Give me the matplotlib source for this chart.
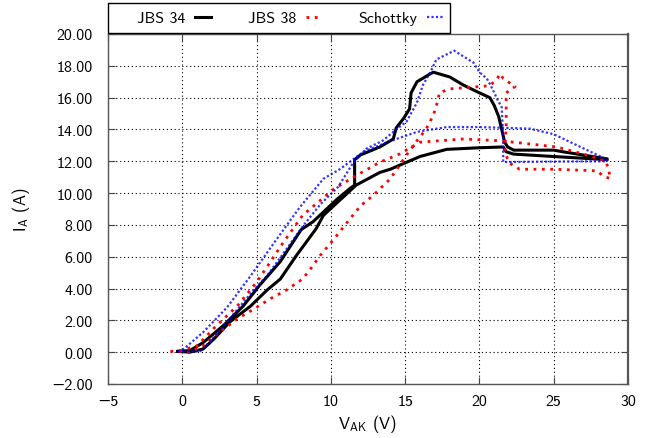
import matplotlib
matplotlib.use('Agg')
import matplotlib.pyplot as plt
from matplotlib.patches import Rectangle

plt.rcParams['font.family'] = ['cmss10', 'DejaVu Sans']
plt.rcParams['mathtext.default'] = 'regular'
plt.rcParams['axes.unicode_minus'] = True

# JBS 34 loop (forward branch, then return branch)
v34 = [-0.3, 0.5, 1.4, 2.8, 4.1, 5.2, 6.6, 8.0, 8.8, 10.4, 11.3, 11.6, 11.6, 12.0, 13.3, 14.2,
       14.4, 14.9, 15.3, 15.4, 15.8, 16.7, 16.9, 18.0, 18.9, 20.0, 20.7, 21.0, 21.3, 21.6, 21.7,
       21.9, 22.3, 25.0, 25.6, 28.6,
       28.6, 25.0, 22.3, 21.8, 21.6, 20.0, 17.8, 16.0, 14.0, 13.3, 11.7, 9.5, 9.0, 7.7, 6.6,
       5.7, 4.6, 3.2, 2.1, 1.4, 0.5, -0.3]
i34 = [0.05, 0.1, 0.6, 1.7, 2.9, 4.2, 5.7, 7.7, 8.2, 9.6, 10.3, 10.5, 12.1, 12.4, 12.9, 13.4,
       14.1, 14.7, 15.3, 16.3, 17.0, 17.5, 17.6, 17.3, 16.8, 16.3, 16.0, 15.5, 14.8, 13.6, 13.2,
       12.9, 12.7, 12.7, 12.6, 12.15,
       12.1, 12.3, 12.45, 12.6, 12.9, 12.85, 12.75, 12.3, 11.5, 11.3, 10.5, 8.6, 7.75, 6.1, 4.6,
       3.9, 2.9, 1.9, 0.8, 0.2, 0.0, 0.05]

# JBS 38 loop
v38 = [-0.8, 0.0, 0.5, 1.4, 2.5, 3.7, 4.8, 5.9, 7.0, 8.1, 8.6, 9.3, 10.2, 11.3, 12.0, 12.9,
       14.0, 15.1, 15.8, 16.4, 16.9, 17.2, 17.3, 18.0, 19.4, 20.7, 21.2, 21.4, 21.6, 22.4, 21.8,
       21.8, 21.7, 22.0, 22.7, 25.0, 27.9, 28.3, 28.8, 28.7, 28.5, 27.4, 26.0, 25.2, 22.3, 21.2,
       18.9, 16.0, 14.65, 13.3, 11.7, 10.2, 8.6, 8.1, 6.8, 5.8, 5.0, 3.7, 2.3, 1.0, -0.3]
i38 = [0.05, 0.05, 0.0, 0.4, 1.25, 2.1, 2.7, 3.35, 3.9, 4.6, 5.2, 6.1, 7.1, 8.4, 9.2, 9.9,
       10.9, 12.4, 13.3, 14.0, 14.9, 15.8, 16.3, 16.55, 16.65, 16.75, 17.2, 17.5, 17.2, 16.7, 16.3,
       14.2, 12.6, 11.9, 11.5, 11.5, 11.4, 11.1, 10.9, 11.5, 12.0, 12.35, 12.7, 12.9, 13.2, 13.3,
       13.4, 13.2, 12.47, 11.94, 11.1, 10.26, 9.0, 8.6, 6.9, 5.5, 4.4, 2.9, 1.67, 0.4, 0.05]

# Schottky loop
vsch = [-0.3, 1.2, 2.0, 3.0, 3.9, 4.8, 5.7, 6.8, 8.1, 9.3, 10.5, 11.5, 12.4, 13.5, 14.4, 15.1,
        15.8, 16.2, 16.7, 17.1, 18.3, 19.6, 20.0, 20.5, 20.9, 21.2, 21.5, 21.6, 21.6, 25.0, 28.6,
        28.6, 26.8, 25.0, 23.4, 21.8, 20.0, 17.8, 15.8, 13.8, 12.2, 10.6, 9.5, 7.9, 6.35, 4.6,
        3.0, 1.4, 0.1, -0.3]
isch = [0.05, 0.05, 0.8, 1.9, 2.9, 3.9, 4.8, 6.2, 7.9, 9.3, 10.4, 11.9, 12.8, 13.3, 14.0, 14.5,
        15.7, 16.8, 17.6, 18.4, 18.95, 18.2, 17.6, 17.2, 16.5, 15.9, 15.4, 13.5, 11.95, 11.98, 12.0,
        12.1, 12.9, 13.7, 14.05, 14.1, 14.15, 14.15, 13.85, 13.2, 12.6, 11.5, 10.9, 9.1, 7.1, 4.8,
        2.8, 1.25, 0.2, 0.05]

xticks = [-5, 0, 5, 10, 15, 20, 25, 30]
yticks = [-2, 0, 2, 4, 6, 8, 10, 12, 14, 16, 18, 20]

fig = plt.figure(figsize=(6.56, 4.39), dpi=100)
ax = fig.add_axes([108/656, 1 - 385/439, 520/656, 350/439])

ax.plot(v34, i34, color='black', lw=2.2, label='JBS 34')
ax.plot(v38, i38, color='red', lw=2.0, ls=(0, (1, 2)), label='JBS 38')
ax.plot(vsch, isch, color='blue', lw=1.6, ls=(0, (1, 1)), alpha=0.8, label='Schottky')

ax.set_xlim(-5, 30)
ax.set_ylim(-2, 20)
ax.set_xticks(xticks)
ax.set_xticklabels([str(t).replace('-', '\u2212') for t in xticks])
ax.set_yticks(yticks)
ax.set_yticklabels([('%.2f' % t).replace('-', '\u2212') for t in yticks])
ax.tick_params(direction='in', top=True, right=True, length=5, labelsize=11.5, color='#444444')
ax.tick_params(axis='y', pad=11)
ax.tick_params(axis='x', pad=7)
for s in ax.spines.values():
    s.set_color('#555555')
    s.set_linewidth(1.0)
ax.spines['right'].set_linewidth(1.6)
ax.grid(True, color='black', ls=(0, (1, 2.5)), lw=0.8)

ax.set_xlabel('V$_{AK}$ (V)', fontsize=12, labelpad=3)
ax.set_ylabel('I$_{A}$ (A)', fontsize=12, labelpad=14)

# legend box above the plot, handles after the text
fig.patches.append(Rectangle((108/656, 1 - 34/439), 342/656, 30/439, transform=fig.transFigure,
                             facecolor='white', edgecolor='black', lw=1.0, zorder=5))
leg = fig.legend(loc='center left', bbox_to_anchor=(137/656, 1 - 19/439), ncol=3,
                 markerfirst=False, frameon=False, fontsize=11.5, handlelength=1.0,
                 columnspacing=2.3, borderaxespad=0, borderpad=0.0, handletextpad=0.6)
leg.set_zorder(6)

fig.savefig('out.png', dpi=100)
